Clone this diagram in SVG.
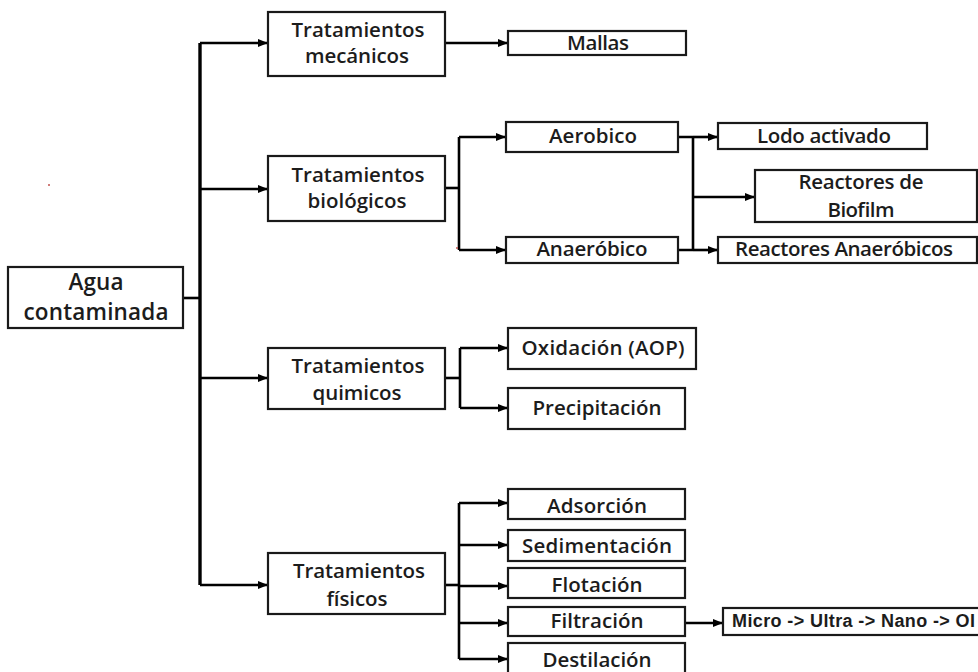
<svg xmlns="http://www.w3.org/2000/svg" width="978" height="672" viewBox="0 0 978 672">
<style>
  .box { fill: #ffffff; stroke: #1a1a1a; stroke-width: 2.2; }
  .lbl { font-family: "Open Sans", "Liberation Sans", sans-serif; font-size: 20.5px; font-weight: 600; fill: #1c1c1c; text-anchor: middle; }
  .big { font-size: 22.5px; }
  .sm { font-family: "Liberation Sans", Arial, sans-serif; font-size: 18px; font-weight: 700; fill: #1c1c1c; text-anchor: start; }
  .con { fill: none; stroke: #000000; stroke-width: 2.6; }
  .trunk { fill: none; stroke: #000000; stroke-width: 3.4; }
  .arr { marker-end: url(#ah); }
</style>
<defs>
  <marker id="ah" markerUnits="userSpaceOnUse" markerWidth="10" markerHeight="10" viewBox="0 0 10 10" refX="10" refY="5" orient="auto">
    <path d="M0,1 L10,5 L0,9 Z" fill="#000000"/>
  </marker>
</defs>
<rect width="978" height="672" fill="#ffffff"/>

<g id="connectors">
  <path class="con" d="M183,298 H200"/>
  <path class="trunk" d="M200,43 V585"/>
  <path class="con arr" d="M200,43 H268"/>
  <path class="con arr" d="M200,189 H268"/>
  <path class="con arr" d="M200,378 H268"/>
  <path class="con arr" d="M200,585 H268"/>
  <path class="con arr" d="M445,43 H508"/>
  <path class="con" d="M445,188 H459"/>
  <path class="con" d="M459,137 V250"/>
  <path class="con arr" d="M459,137 H506"/>
  <path class="con arr" d="M459,250 H506"/>
  <path class="con" d="M678,137 H693 M678,250 H693"/>
  <path class="con" d="M693,137 V250"/>
  <path class="con arr" d="M693,137 H718"/>
  <path class="con arr" d="M693,197 H755"/>
  <path class="con arr" d="M693,250 H718"/>
  <path class="con" d="M445,378 H460"/>
  <path class="con" d="M460,348 V408"/>
  <path class="con arr" d="M460,348 H508"/>
  <path class="con arr" d="M460,408 H508"/>
  <path class="con" d="M445,585 H459"/>
  <path class="con" d="M459,503 V659"/>
  <path class="con arr" d="M459,503 H508"/>
  <path class="con arr" d="M459,545 H508"/>
  <path class="con arr" d="M459,586 H508"/>
  <path class="con arr" d="M459,623 H508"/>
  <path class="con arr" d="M459,659 H508"/>
  <path class="con arr" d="M685,623 H723"/>
</g>

<g id="agua">
  <rect class="box" x="8" y="267" width="175" height="61"/>
  <text class="lbl big" x="96" y="290" textLength="55">Agua</text>
  <text class="lbl big" x="96" y="320" textLength="145">contaminada</text>
</g>

<g id="mecanicos">
  <rect class="box" x="268" y="12" width="177" height="64"/>
  <text class="lbl" x="358" y="37" textLength="133">Tratamientos</text>
  <text class="lbl" x="357" y="63" textLength="104">mecánicos</text>
</g>
<g id="biologicos">
  <rect class="box" x="268" y="156" width="177" height="65"/>
  <text class="lbl" x="358" y="182" textLength="133">Tratamientos</text>
  <text class="lbl" x="357" y="208" textLength="99">biológicos</text>
</g>
<g id="quimicos">
  <rect class="box" x="268" y="348" width="177" height="61"/>
  <text class="lbl" x="358" y="373" textLength="133">Tratamientos</text>
  <text class="lbl" x="357" y="400" textLength="89">quimicos</text>
</g>
<g id="fisicos">
  <rect class="box" x="268" y="553" width="177" height="61"/>
  <text class="lbl" x="359" y="578" textLength="132">Tratamientos</text>
  <text class="lbl" x="357" y="606" textLength="61">físicos</text>
</g>

<g id="mallas">
  <rect class="box" x="508" y="31" width="178" height="24"/>
  <text class="lbl" x="598" y="50" textLength="62">Mallas</text>
</g>
<g id="aerobico">
  <rect class="box" x="506" y="122" width="172" height="30"/>
  <text class="lbl" x="593" y="143" textLength="88">Aerobico</text>
</g>
<g id="anaerobico">
  <rect class="box" x="506" y="237" width="172" height="26"/>
  <text class="lbl" x="592" y="256" textLength="111">Anaeróbico</text>
</g>
<g id="lodo">
  <rect class="box" x="718" y="123" width="209" height="26"/>
  <text class="lbl" x="824" y="143" textLength="134">Lodo activado</text>
</g>
<g id="biofilm">
  <rect class="box" x="755" y="170" width="222" height="52"/>
  <text class="lbl" x="861" y="189" textLength="125">Reactores de</text>
  <text class="lbl" x="861" y="217" textLength="67">Biofilm</text>
</g>
<g id="reactores-anaerobicos">
  <rect class="box" x="718" y="237" width="259" height="26"/>
  <text class="lbl" x="844" y="256" textLength="218">Reactores Anaeróbicos</text>
</g>
<g id="oxidacion">
  <rect class="box" x="508" y="328" width="188" height="41"/>
  <text class="lbl" x="603" y="355" textLength="163">Oxidación (AOP)</text>
</g>
<g id="precipitacion">
  <rect class="box" x="508" y="388" width="177" height="41"/>
  <text class="lbl" x="597" y="415" textLength="129">Precipitación</text>
</g>
<g id="adsorcion">
  <rect class="box" x="508" y="489" width="177" height="30"/>
  <text class="lbl" x="597" y="513" textLength="100">Adsorción</text>
</g>
<g id="sedimentacion">
  <rect class="box" x="508" y="530" width="177" height="31"/>
  <text class="lbl" x="597" y="553" textLength="150">Sedimentación</text>
</g>
<g id="flotacion">
  <rect class="box" x="508" y="568" width="177" height="30"/>
  <text class="lbl" x="597" y="592" textLength="91">Flotación</text>
</g>
<g id="filtracion">
  <rect class="box" x="508" y="607" width="177" height="29"/>
  <text class="lbl" x="597" y="628" textLength="93">Filtración</text>
</g>
<g id="destilacion">
  <rect class="box" x="508" y="643" width="177" height="34"/>
  <text class="lbl" x="597" y="667" textLength="109">Destilación</text>
</g>
<g id="micro">
  <rect class="box" x="723" y="608" width="260" height="27"/>
  <text class="sm" x="732" y="627" textLength="243">Micro -&gt; Ultra -&gt; Nano -&gt; OI</text>
</g>

<circle cx="49" cy="185" r="1" fill="#c0504d"/>
<circle cx="457" cy="248" r="1" fill="#c0504d"/>
</svg>
